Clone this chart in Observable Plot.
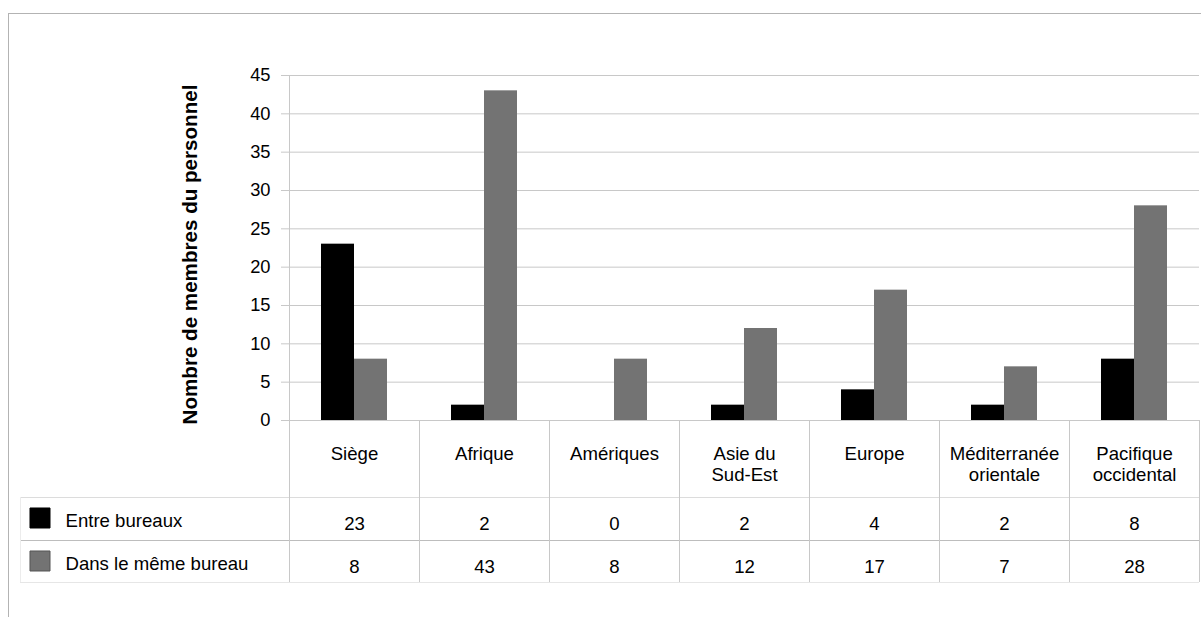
<!DOCTYPE html>
<html><head><meta charset="utf-8">
<script src="https://cdn.jsdelivr.net/npm/d3@7"></script>
<script src="https://cdn.jsdelivr.net/npm/@observablehq/plot@0.6"></script>
<style>
html,body{margin:0;padding:0;background:#fff;overflow:hidden;}
#wrap{position:relative;width:1201px;height:617px;overflow:hidden;}
#border{position:absolute;left:8px;top:13px;width:1400px;height:800px;border-left:1px solid #b3b3b3;border-top:1px solid #b3b3b3;}
#chart{position:absolute;left:0;top:0;}
</style></head><body>
<div id="wrap"><div id="border"></div><div id="chart"></div></div>
<script>
const categories = ["Siège", "Afrique", "Amériques", "Asie du\nSud-Est", "Europe", "Méditerranée\norientale", "Pacifique\noccidental"];
const series = ["Entre bureaux", "Dans le même bureau"];
const entreBureaux = [23, 2, 0, 2, 4, 2, 8];
const memeBureau = [8, 43, 8, 12, 17, 7, 28];
const yTicks = [0, 5, 10, 15, 20, 25, 30, 35, 40, 45];
const colors = ["#000000", "#737373"];
const yTitle = "Nombre de membres du personnel";

const valuesBySeries = [entreBureaux, memeBureau];
const rows = [];
categories.forEach((c, i) => series.forEach((s, j) => rows.push({category: c, series: s, value: valuesBySeries[j][i]})));

const W = 1201, H = 617, mL = 289, mR = 2, mT = 75, mB = 197;
const frameH = H - mT - mB;
const half = 65;
const grid = "#c8c8c8";
const rowDy = [103.5, 146.5];
const legendDy = [101, 143.5];
const swatchDy = [97.5, 140.5];
const fs = 18.6;

const marks = [
  Plot.gridY(yTicks, {stroke: grid, strokeOpacity: 1}),
  // table lines
  Plot.ruleY([0], {dy: 77, insetLeft: -269, stroke: "#dcdcdc"}),
  Plot.ruleY([0], {dy: 120, insetLeft: -269, stroke: "#bdbdbd"}),
  Plot.ruleY([0], {dy: 162, insetLeft: -269, stroke: "#e6e6e6"}),
  Plot.ruleX([categories[0]], {dx: -half - 269, insetTop: frameH + 77, insetBottom: -162, stroke: "#ececec"}),
  Plot.ruleX([categories[0]], {dx: -half, insetBottom: -162, stroke: grid}),
  Plot.ruleX(categories.slice(1), {dx: -half, insetTop: frameH, insetBottom: -162, stroke: grid}),
  Plot.ruleX([categories[categories.length - 1]], {dx: half, insetTop: frameH, insetBottom: -162, stroke: grid}),
  // bars
  Plot.barY(rows.filter(d => d.series === series[0]), {x: "category", y: "value", fill: "series", insetLeft: 32, insetRight: 65}),
  Plot.barY(rows.filter(d => d.series === series[1]), {x: "category", y: "value", fill: "series", insetLeft: 65, insetRight: 32}),
  // axes
  Plot.axisY(yTicks, {tickSize: 8, tickPadding: 11, fontSize: 18.3, stroke: grid, strokeOpacity: 1, label: null}),
  Plot.axisX({tickSize: 0, tickPadding: 24, fontSize: fs, lineHeight: 1.14, label: null}),
  Plot.text([yTitle], {frameAnchor: "left", rotate: -90, dx: -99, dy: 6.5, textAnchor: "middle", lineAnchor: "middle", fontWeight: "bold", fontSize: 20.6}),
];
series.forEach((s, j) => {
  marks.push(Plot.text(rows.filter(d => d.series === s), {x: "category", text: d => String(d.value), frameAnchor: "bottom", dy: rowDy[j], lineAnchor: "middle", fontSize: fs}));
  marks.push(Plot.text([s], {frameAnchor: "bottom-left", dx: -224, dy: legendDy[j], textAnchor: "start", lineAnchor: "middle", fontSize: fs}));
  marks.push(Plot.dot([s], {frameAnchor: "bottom-left", dx: -249.5, dy: swatchDy[j], symbol: "square", r: 11.3, fill: d => d, stroke: j === 1 ? "#555" : "#000", strokeWidth: 1}));
});

const chart = Plot.plot({
  width: W, height: H,
  marginLeft: mL, marginRight: mR, marginTop: mT, marginBottom: mB,
  style: {fontFamily: "'Liberation Sans', Arial, sans-serif", fontSize: "18px", color: "#000", background: "transparent"},
  x: {domain: categories, padding: 0},
  y: {domain: [0, 45]},
  color: {domain: series, range: colors},
  marks
});
document.getElementById("chart").appendChild(chart);
</script>
</body></html>
